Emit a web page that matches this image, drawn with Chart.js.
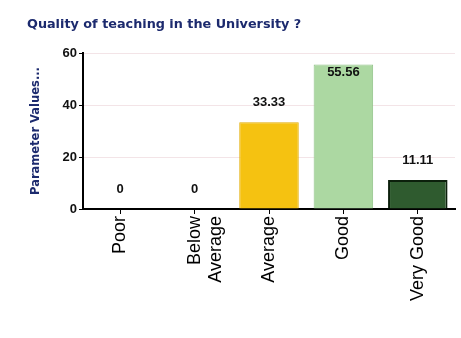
<!DOCTYPE html>
<html>
<head>
<meta charset="utf-8">
<script src="https://cdn.jsdelivr.net/npm/chart.js@4"></script>
<style>
  html, body { margin: 0; padding: 0; background: #fff; }
  #wrap { width: 461px; height: 338px; position: relative; }
</style>
</head>
<body>
<div id="wrap"><canvas id="teachingChart" width="461" height="338"></canvas></div>
<script>
// survey answers and percentage of respondents
const categories = ["Poor", ["Below", "Average"], "Average", "Good", "Very Good"];
const percentValues = [0, 0, 33.33, 55.56, 11.11];
const yTicks = [0, 20, 40, 60];

const barColors = ["#f5c211", "#f5c211", "#f5c211", "#acd8a2", "#2f5b2f"];
const barBorders = ["#e3ad00", "#e3ad00", "#e3ad00", "#8fc286", "#0c200c"];

// heading in the top-left corner
const titlePlugin = {
  id: "titleText",
  afterDraw(chart) {
    const ctx = chart.ctx;
    ctx.save();
    ctx.font = "bold 12.8px 'DejaVu Sans'";
    ctx.fillStyle = "#1c2a6e";
    ctx.textAlign = "left";
    ctx.textBaseline = "middle";
    ctx.fillText("Quality of teaching in the University ?", 27, 25);
    ctx.restore();
  }
};

// value labels on top of each bar (inside when there is no room above)
const valueLabels = {
  id: "valueLabels",
  afterDatasetsDraw(chart) {
    const ctx = chart.ctx;
    const meta = chart.getDatasetMeta(0);
    ctx.save();
    ctx.font = "bold 13px 'Liberation Sans'";
    ctx.fillStyle = "#111";
    ctx.textAlign = "center";
    ctx.textBaseline = "middle";
    meta.data.forEach((bar, i) => {
      const v = percentValues[i];
      let y = bar.y - 20;
      if (y < chart.chartArea.top + 4) y = bar.y + 8;
      ctx.fillText(String(v), bar.x, y);
    });
    ctx.restore();
  }
};

new Chart(document.getElementById("teachingChart"), {
  type: "bar",
  data: {
    labels: categories,
    datasets: [{
      data: percentValues,
      backgroundColor: barColors,
      borderColor: barBorders,
      borderWidth: [1, 1, 1, 1, 2],
      barPercentage: 0.8,
      categoryPercentage: 1
    }]
  },
  options: {
    responsive: false,
    animation: false,
    layout: { padding: { left: 25, top: 53, right: 6, bottom: 0 } },
    plugins: {
      legend: { display: false },
      tooltip: { enabled: false }
    },
    scales: {
      x: {
        afterFit(scale) { scale.height = 129; },
        border: { color: "#000", width: 2 },
        grid: { offset: false, drawOnChartArea: false, tickColor: "#000", tickLength: 5 },
        ticks: {
          color: "#000",
          font: { family: "'Liberation Sans'", size: 18 },
          maxRotation: 90,
          minRotation: 90,
          padding: 2
        }
      },
      y: {
        min: 0,
        max: 60,
        afterFit(scale) { scale.width = 58; },
        afterBuildTicks(scale) { scale.ticks = yTicks.map(v => ({ value: v })); },
        border: { color: "#000", width: 2 },
        grid: { color: "rgba(235,210,215,0.6)", tickColor: "#000", tickLength: 4 },
        ticks: {
          color: "#111",
          font: { family: "'Liberation Sans'", size: 13, weight: "bold" },
          padding: 2
        },
        title: {
          display: true,
          text: "Parameter Values...",
          color: "#1c2a6e",
          font: { family: "'DejaVu Sans'", size: 11.5, weight: "bold" }
        }
      }
    }
  },
  plugins: [titlePlugin, valueLabels]
});
</script>
</body>
</html>
